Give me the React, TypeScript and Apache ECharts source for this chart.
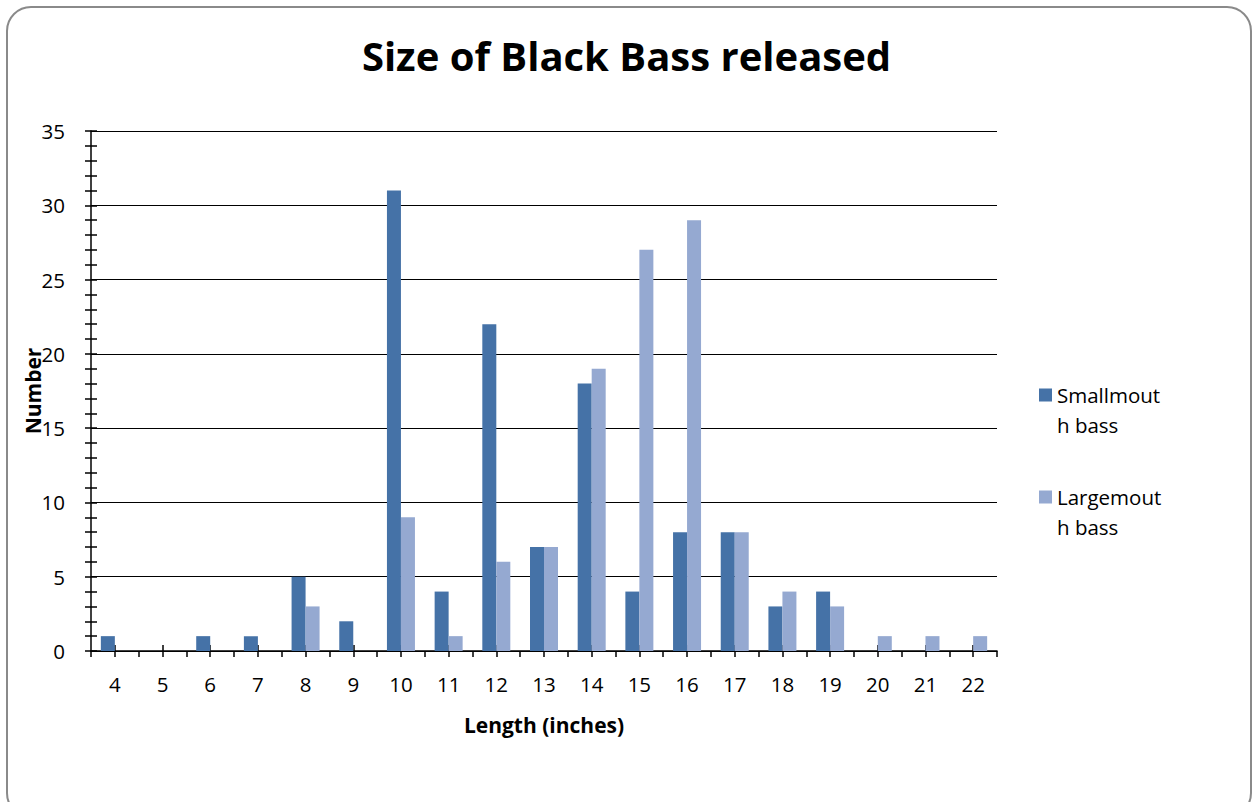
import React, { useEffect, useRef } from "react";
import * as echarts from "echarts";

const categories = ["4", "5", "6", "7", "8", "9", "10", "11", "12", "13", "14", "15", "16", "17", "18", "19", "20", "21", "22"];
const smallmouth = [1, 0, 1, 1, 5, 2, 31, 4, 22, 7, 18, 4, 8, 8, 3, 4, 0, 0, 0];
const largemouth = [0, 0, 0, 0, 3, 0, 9, 1, 6, 7, 19, 27, 29, 8, 4, 3, 1, 1, 1];
const seriesNames = ["Smallmouth bass", "Largemouth bass"];
const yTicks = { min: 0, max: 35, interval: 5 };

const FONT = "'Open Sans', 'Noto Sans', sans-serif";
const BLACK = "#000000";

export default function App() {
  const ref = useRef<HTMLDivElement>(null);
  useEffect(() => {
    if (!ref.current) return;
    const chart = echarts.init(ref.current, null, { renderer: "svg" });
    const tickLine = { color: BLACK, width: 1.5 };
    const baseX = {
      type: "category" as const,
      data: categories,
      position: "bottom" as const,
      boundaryGap: true,
    };
    const baseY = {
      type: "value" as const,
      min: yTicks.min,
      max: yTicks.max,
      interval: yTicks.interval,
      position: "left" as const,
    };
    chart.setOption({
      animation: false,
      backgroundColor: "#ffffff",
      textStyle: { fontFamily: FONT },
      title: {
        text: "Size of Black Bass released",
        left: "center",
        top: 30,
        textStyle: { fontFamily: FONT, fontWeight: "bold", fontSize: 40, color: BLACK },
      },
      legend: {
        orient: "vertical",
        left: 1039,
        top: 380,
        padding: 0,
        itemWidth: 13,
        itemHeight: 43,
        itemGap: 42,
        icon: "path://M0,0L13,0L13,13L0,13Z M0,43L0.01,43",
        formatter: (name: string) => name.replace("mouth bass", "mout\nh bass"),
        textStyle: { fontFamily: FONT, fontSize: 20.5, lineHeight: 30, color: BLACK },
        data: seriesNames,
      },
      grid: { left: 91, right: 256, top: 131, bottom: 151, containLabel: false },
      xAxis: [
        {
          ...baseX,
          name: "Length (inches)",
          nameLocation: "middle",
          nameGap: 63,
          nameMoveOverlap: false,
          nameTextStyle: { fontFamily: FONT, fontWeight: "bold", fontSize: 21, color: BLACK },
          axisLine: { show: true, lineStyle: tickLine },
          axisTick: { show: true, alignWithLabel: false, length: 6, lineStyle: tickLine },
          axisLabel: { show: true, margin: 22, fontFamily: FONT, fontSize: 20.5, color: BLACK, interval: 0 },
          splitLine: { show: false },
        },
        {
          ...baseX,
          axisLine: { show: false },
          axisTick: { show: true, alignWithLabel: true, length: 6, lineStyle: tickLine, interval: 0 },
          axisLabel: { show: false },
          splitLine: { show: false },
        },
        {
          ...baseX,
          axisLine: { show: false },
          axisTick: { show: true, alignWithLabel: true, inside: true, length: 6, lineStyle: tickLine, interval: 0 },
          axisLabel: { show: false },
          splitLine: { show: false },
        },
      ],
      yAxis: [
        {
          ...baseY,
          name: "Number",
          nameLocation: "middle",
          nameGap: 48,
          nameMoveOverlap: false,
          nameTextStyle: { fontFamily: FONT, fontWeight: "bold", fontSize: 21, color: BLACK },
          axisLine: { show: true, lineStyle: tickLine },
          axisTick: { show: true, length: 6, lineStyle: tickLine },
          minorTick: { show: true, splitNumber: 5, length: 6, lineStyle: tickLine },
          axisLabel: { show: true, margin: 26, fontFamily: FONT, fontSize: 20.5, color: BLACK },
          splitLine: { show: true, lineStyle: { color: BLACK, width: 1.2 } },
        },
        {
          ...baseY,
          axisLine: { show: false },
          axisTick: { show: true, inside: true, length: 6, lineStyle: tickLine },
          minorTick: { show: true, splitNumber: 5, length: 6, lineStyle: tickLine },
          axisLabel: { show: false },
          splitLine: { show: false },
        },
      ],
      series: [
        {
          name: seriesNames[0],
          type: "bar",
          xAxisIndex: 0,
          yAxisIndex: 0,
          data: smallmouth,
          barWidth: 14,
          barGap: "0%",
          itemStyle: { color: "#4572A7" },
        },
        {
          name: seriesNames[1],
          type: "bar",
          xAxisIndex: 0,
          yAxisIndex: 0,
          data: largemouth,
          barWidth: 14,
          barGap: "0%",
          itemStyle: { color: "#95A9D1" },
        },
      ],
      graphic: [
        {
          type: "rect",
          silent: true,
          shape: { x: 7, y: 7, width: 1244, height: 810, r: 24 },
          style: { fill: "none", stroke: "#8a8a8a", lineWidth: 2 },
          z: 100,
        },
      ],
    });
    return () => chart.dispose();
  }, []);
  return (
    <div
      ref={ref}
      style={{ position: "fixed", left: 0, top: 0, width: 1253, height: 802 }}
    />
  );
}
